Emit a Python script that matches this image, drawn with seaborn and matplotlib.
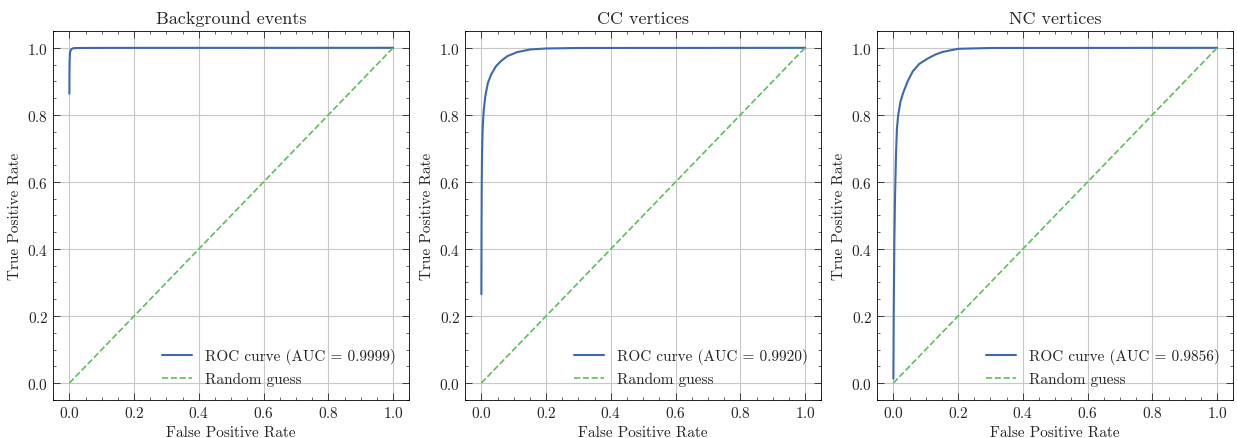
import numpy as np
import pandas as pd
import matplotlib
matplotlib.use("Agg")
import matplotlib.pyplot as plt
import seaborn as sns

# ROC curves
bkg_fpr = [0.0, 0.0, 0.0003, 0.0008, 0.002, 0.004, 0.008, 0.013, 0.03, 0.1, 0.5, 1.0]
bkg_tpr = [0.0, 0.863, 0.93, 0.965, 0.985, 0.993, 0.997, 0.999, 0.9995, 0.9998, 0.9999, 1.0]
bkg_auc = 0.9999

cc_fpr = [0.0, 0.0, 0.0005, 0.001, 0.002, 0.004, 0.007, 0.012, 0.02, 0.03, 0.045, 0.06, 0.08, 0.11, 0.15, 0.2, 0.3, 1.0]
cc_tpr = [0.0, 0.265, 0.45, 0.58, 0.68, 0.76, 0.81, 0.855, 0.895, 0.92, 0.945, 0.96, 0.975, 0.987, 0.995, 0.998, 0.9995, 1.0]
cc_auc = 0.9920

nc_fpr = [0.0, 0.0, 0.001, 0.002, 0.003, 0.005, 0.008, 0.011, 0.015, 0.022, 0.03, 0.044, 0.06, 0.08, 0.106, 0.13, 0.153, 0.2, 0.3, 1.0]
nc_tpr = [0.0, 0.013, 0.2, 0.32, 0.42, 0.55, 0.68, 0.76, 0.80, 0.84, 0.865, 0.9, 0.93, 0.952, 0.968, 0.98, 0.988, 0.997, 0.9995, 1.0]
nc_auc = 0.9856

titles = ["Background events", "CC vertices", "NC vertices"]
curves = [(bkg_fpr, bkg_tpr, bkg_auc), (cc_fpr, cc_tpr, cc_auc), (nc_fpr, nc_tpr, nc_auc)]
diag = [0.0, 1.0]

sns.set_style("whitegrid")
plt.rcParams["font.family"] = "serif"
plt.rcParams["font.serif"] = ["cmr10", "DejaVu Serif"]
plt.rcParams["axes.formatter.use_mathtext"] = True
plt.rcParams["font.size"] = 10
plt.rcParams["axes.edgecolor"] = "black"
plt.rcParams["axes.linewidth"] = 0.6
plt.rcParams["grid.color"] = "#c8c8c8"
plt.rcParams["grid.linewidth"] = 0.8
plt.rcParams["xtick.direction"] = "in"
plt.rcParams["ytick.direction"] = "in"

roc_col = "#3e69ad"
rnd_col = "#5cbf5c"

fig, axes = plt.subplots(1, 3, figsize=(12.37, 4.39), dpi=100)
for ax, (fpr, tpr, auc), title in zip(axes, curves, titles):
    df = pd.DataFrame({"fpr": fpr, "tpr": tpr})
    # drop the (0,0) anchor point so the curve starts where the reference starts
    sns.lineplot(data=df.iloc[1:], x="fpr", y="tpr", ax=ax, color=roc_col, lw=1.5,
                 sort=False, estimator=None, label="ROC curve (AUC = %.4f)" % auc)
    dg = pd.DataFrame({"x": diag, "y": diag})
    sns.lineplot(data=dg, x="x", y="y", ax=ax, color=rnd_col, lw=1.2, ls="--",
                 label="Random guess")
    ax.set_xlim(-0.05, 1.05)
    ax.set_ylim(-0.05, 1.05)
    ax.set_xticks(np.arange(0, 1.01, 0.2))
    ax.set_yticks(np.arange(0, 1.01, 0.2))
    ax.minorticks_on()
    ax.grid(True, which="major")
    ax.grid(False, which="minor")
    ax.tick_params(which="major", direction="in", length=5, width=0.6, top=True, right=True, bottom=True, left=True, labelsize=11)
    ax.tick_params(which="minor", direction="in", length=2.5, width=0.5, top=True, right=True, bottom=True, left=True)
    ax.set_title(title, fontsize=13)
    ax.set_xlabel("False Positive Rate", fontsize=11)
    ax.set_ylabel("True Positive Rate", fontsize=11)
    ax.legend(loc="lower right", frameon=False, fontsize=11)

fig.subplots_adjust(left=0.043, right=0.997, bottom=0.087, top=0.927, wspace=0.157)
fig.savefig("out.png", dpi=100)
